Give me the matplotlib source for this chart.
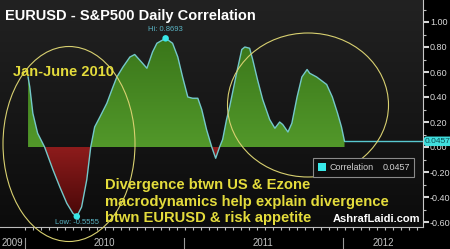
import numpy as np
import pandas as pd
import matplotlib
matplotlib.use("Agg")
import matplotlib.pyplot as plt
import matplotlib.dates as mdates
import matplotlib.transforms as mtransforms
from matplotlib.patches import Ellipse, Rectangle
from matplotlib.path import Path
from matplotlib.colors import LinearSegmentedColormap

# EURUSD vs S&P500 rolling daily correlation
dates = ["2010-01-08", "2010-01-12", "2010-01-19", "2010-01-30", "2010-02-15",
         "2010-03-06", "2010-03-22", "2010-04-07", "2010-04-21", "2010-04-30",
         "2010-05-11", "2010-05-23", "2010-06-01", "2010-06-10", "2010-06-22",
         "2010-07-08", "2010-07-22", "2010-07-31", "2010-08-14", "2010-08-30",
         "2010-09-10", "2010-09-28", "2010-10-08", "2010-10-21", "2010-10-31",
         "2010-11-20", "2010-12-06", "2010-12-18", "2010-12-29", "2011-01-10",
         "2011-01-21", "2011-02-02", "2011-02-11", "2011-02-22", "2011-03-06",
         "2011-03-15", "2011-03-24", "2011-03-31", "2011-04-09", "2011-04-16",
         "2011-05-02", "2011-05-14", "2011-05-21", "2011-06-01", "2011-06-08",
         "2011-06-19", "2011-07-01", "2011-07-17", "2011-07-29", "2011-08-09",
         "2011-08-16", "2011-08-28", "2011-09-06", "2011-09-18", "2011-09-29",
         "2011-10-11", "2011-10-17", "2011-11-02", "2011-11-25", "2011-12-08",
         "2011-12-20", "2011-12-29", "2012-01-05"]
corr = [0.56, 0.48, 0.27, 0.11, 0.00,
        -0.18, -0.32, -0.45, -0.53, -0.5555,
        -0.48, -0.26, 0.00, 0.16, 0.24,
        0.35, 0.48, 0.56, 0.64, 0.72,
        0.74, 0.67, 0.63, 0.76, 0.83,
        0.8693, 0.83, 0.72, 0.56, 0.40,
        0.39, 0.39, 0.30, 0.14, 0.00,
        -0.09, 0.00, 0.06, 0.22, 0.32,
        0.59, 0.78, 0.80, 0.79, 0.70,
        0.54, 0.38, 0.22, 0.15, 0.20,
        0.18, 0.12, 0.19, 0.40, 0.56,
        0.62, 0.59, 0.56, 0.50, 0.40,
        0.27, 0.16, 0.0457]
y_ticks = [-0.60, -0.40, -0.20, 0.00, 0.20, 0.40, 0.60, 0.80, 1.00]
years = [2009, 2010, 2011, 2012]

title = "EURUSD - S&P500 Daily Correlation"
note_lines = ["Divergence btwn US & Ezone",
              "macrodynamics help explain divergence",
              "btwn EURUSD & risk appetite"]

x = mdates.date2num(pd.to_datetime(dates))
v = np.array(corr)
last = v[-1]

W, H = 450, 249
fig = plt.figure(figsize=(W / 100, H / 100), dpi=100, facecolor="black")
plt.rcParams["font.family"] = ["Liberation Sans", "DejaVu Sans"]

ax_bottom_px, ax_right_px = 227, 423
ax = fig.add_axes([0, (H - ax_bottom_px) / H, ax_right_px / W, ax_bottom_px / H])
ax.set_facecolor("#141414")

# x limits: 2010-01-01 sits 25px from the left, 159px per year
d0 = mdates.date2num(pd.Timestamp("2010-01-01"))
px_per_day = 159 / 365.25
xlim = (d0 - 25 / px_per_day, d0 + (ax_right_px - 25) / px_per_day)
ylim = (-0.64, 1.176)

# background gradient
bg = LinearSegmentedColormap.from_list("bg", ["#0c0c0c", "#222222"])
ax.imshow(np.linspace(0, 1, 100).reshape(-1, 1), cmap=bg, origin="lower",
          extent=[0, 1, 0, 1], transform=ax.transAxes, aspect="auto", zorder=0)

# gradient fills clipped to the positive / negative areas
def grad_fill(where, c_lo, c_hi, y_lo, y_hi):
    poly = ax.fill_between(x, v, 0, where=where, interpolate=True,
                           facecolor="none", edgecolor="none", zorder=1)
    path = Path.make_compound_path(*poly.get_paths())
    cm = LinearSegmentedColormap.from_list("g", [c_lo, c_hi])
    im = ax.imshow(np.linspace(0, 1, 100).reshape(-1, 1), cmap=cm, origin="lower",
                   extent=[x[0], x[-1], y_lo, y_hi], aspect="auto", zorder=1)
    im.set_clip_path(path, transform=ax.transData)

grad_fill(v >= 0, "#52982a", "#3a761a", 0, v.max())
grad_fill(v <= 0, "#4a0808", "#8e1c1c", v.min(), 0)

ax.plot(x, v, color="#74c8ca", lw=1.0, zorder=3)
ax.plot([x[-1], xlim[1]], [last, last], color="#58c8d0", lw=1.0, zorder=3)

# hi / low markers
i_hi, i_lo = int(np.argmax(v)), int(np.argmin(v))
ax.scatter([x[i_hi], x[i_lo]], [v[i_hi], v[i_lo]], s=22, color="#38e8e8",
           zorder=4, edgecolor="none")
ax.annotate(f"Hi: {v[i_hi]:.4f}", (x[i_hi], v[i_hi]), xytext=(0, 4),
            textcoords="offset points", ha="center", va="bottom",
            fontsize=5.5, color="#5ab4c4", zorder=5)
ax.annotate(f"Low: {v[i_lo]:.4f}", (x[i_lo], v[i_lo]), xytext=(0, -2),
            textcoords="offset points", ha="center", va="top",
            fontsize=5.5, color="#5ab4c4", zorder=5)

ax.set_xlim(*xlim)
ax.set_ylim(*ylim)

# axes styling
for s in ["top", "left"]:
    ax.spines[s].set_visible(False)
ax.spines["right"].set_color("#c8c8c8")
ax.spines["bottom"].set_color("#bdbdbd")
ax.yaxis.tick_right()
ax.set_yticks(y_ticks)
ax.set_yticklabels([f"{t:.2f}" for t in y_ticks])
ax.set_yticks(np.arange(-0.6, 1.11, 0.1), minor=True)
ax.tick_params(axis="y", which="major", direction="out", length=4, width=1.5,
               colors="#d8d8d8", labelsize=6.5, pad=1)
ax.tick_params(axis="y", which="minor", direction="out", length=2, width=0.8,
               colors="#bdbdbd")
ax.set_xticks(np.arange(d0, xlim[1], 18.4))
ax.set_xticks([], minor=True)
ax.tick_params(axis="x", which="major", direction="out", length=2, width=0.8,
               colors="#bdbdbd", labelbottom=False)

# year labels and dividers under the axis
blend = mtransforms.blended_transform_factory(ax.transData, ax.transAxes)
for yr in years:
    a = mdates.date2num(pd.Timestamp(f"{yr}-01-01"))
    b = mdates.date2num(pd.Timestamp(f"{yr + 1}-01-01"))
    lo, hi = max(a, xlim[0]), min(b, xlim[1])
    ax.text((lo + hi) / 2, -0.07, str(yr), transform=blend, ha="center",
            va="center", fontsize=7, color="#c4c4c4", clip_on=False)
    if a > xlim[0]:
        ax.plot([a, a], [-0.048, -0.1], transform=blend, color="#9a9a9a",
                lw=0.8, clip_on=False)

# current value tag on the right axis
tag = mtransforms.blended_transform_factory(ax.transAxes, ax.transData)
ax.text(1.005, last, f"{last:.4f}", transform=tag, ha="left", va="center",
        fontsize=6, color="#0b4b50", zorder=6, clip_on=False,
        bbox=dict(boxstyle="round,pad=0.15,rounding_size=0.3",
                  fc="#40dede", ec="none"))

# overlay in pixel coordinates for text and drawings
ov = fig.add_axes([0, 0, 1, 1], facecolor="none")
ov.set_xlim(0, W)
ov.set_ylim(H, 0)
ov.axis("off")

ov.text(5, 16, title, fontsize=10.5, fontweight="bold", color="white",
        va="center", ha="left")
ov.text(13, 72, "Jan-June 2010", fontsize=10.5, fontweight="bold",
        color="#e4dc3c", va="center", ha="left")
for i, line in enumerate(note_lines):
    ov.text(105, 185 + i * 16.5, line, fontsize=10.6, fontweight="bold",
            color="#e4dc3c", va="center", ha="left")
ov.text(420, 219, "AshrafLaidi.com", fontsize=8, fontweight="bold",
        color="white", va="center", ha="right")

ov.add_patch(Ellipse((69, 144), 132, 195, fill=False, ec="#d8d070", lw=0.8))
ov.add_patch(Ellipse((308, 105), 161, 144, fill=False, ec="#d8d070", lw=0.8))

# legend box
ov.add_patch(Rectangle((313, 158), 101, 19, fc="#0e0e0e", ec="#8a8a8a", lw=0.8,
                       zorder=3))
ov.add_patch(Rectangle((318, 163), 8, 8, fc="#38e8e8", ec="none", zorder=4))
ov.text(329, 167.5, "Correlation", fontsize=6.5, color="#d0d0d0",
        va="center", ha="left", zorder=5)
ov.text(410, 167.5, f"{last:.4f}", fontsize=6.5, color="#d0d0d0",
        va="center", ha="right", zorder=5)

fig.savefig("out.png", dpi=100, facecolor="black")
